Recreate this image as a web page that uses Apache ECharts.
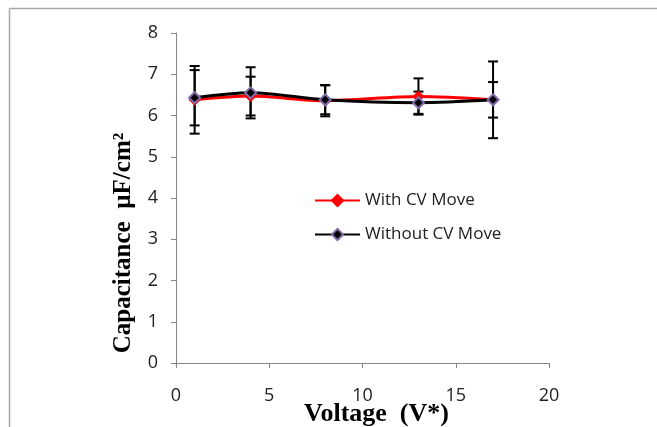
<!DOCTYPE html>
<html>
<head>
<meta charset="utf-8">
<script src="https://cdn.jsdelivr.net/npm/echarts@6/dist/echarts.min.js"></script>
<style>
  html, body { margin: 0; padding: 0; background: #fff; }
  #chart { width: 657px; height: 427px; }
</style>
</head>
<body>
<div id="chart"></div>
<script>
// values
const voltage = [1, 4, 8, 13, 17]
const withCvMove = [6.38, 6.47, 6.36, 6.46, 6.38]
const withoutCvMove = [6.43, 6.55, 6.38, 6.31, 6.38]
const withCvErr = [0.82, 0.47, 0.38, 0.44, 0.43]
const withoutCvErr = [0.67, 0.62, 0.35, 0.27, 0.93]
const seriesNames = ['With CV Move', 'Without CV Move']

const sans = '"Open Sans", "Liberation Sans", sans-serif'
const serif = '"Liberation Serif", "Times New Roman", serif'

/**
 * build [x, y, err] triples for the error bar series
 */
function errData(ys, errs) {
  return voltage.map((x, i) => [x, ys[i], errs[i]])
}

/**
 * vertical error bar with caps
 */
function renderErrorBar(params, api) {
  const x = api.value(0)
  const y = api.value(1)
  const e = api.value(2)
  const top = api.coord([x, y + e])
  const bottom = api.coord([x, y - e])
  const half = 5
  const style = { stroke: '#000', lineWidth: 2 }
  return {
    type: 'group',
    children: [
      { type: 'line', shape: { x1: top[0], y1: top[1], x2: bottom[0], y2: bottom[1] }, style },
      { type: 'line', shape: { x1: top[0] - half, y1: top[1], x2: top[0] + half, y2: top[1] }, style },
      { type: 'line', shape: { x1: bottom[0] - half, y1: bottom[1], x2: bottom[0] + half, y2: bottom[1] }, style }
    ]
  }
}

const chart = echarts.init(document.getElementById('chart'))

chart.setOption({
  backgroundColor: '#fff',
  animation: false,
  graphic: [
    { type: 'line', shape: { x1: 9.5, y1: 8.5, x2: 657, y2: 8.5 }, style: { stroke: '#a6a6a6', lineWidth: 1.5 } },
    { type: 'line', shape: { x1: 9.5, y1: 8.5, x2: 9.5, y2: 427 }, style: { stroke: '#a6a6a6', lineWidth: 1.5 } }
  ],
  grid: { left: 176, right: 108, top: 33, bottom: 64, containLabel: false, outerBoundsMode: 'none' },
  legend: {
    data: seriesNames,
    orient: 'vertical',
    left: 309,
    top: 187,
    itemWidth: 45,
    itemHeight: 14,
    itemGap: 17,
    textStyle: { fontFamily: sans, fontSize: 17, color: '#222' }
  },
  xAxis: {
    type: 'value',
    min: 0,
    max: 20,
    interval: 5,
    name: 'Voltage  (V*)',
    nameLocation: 'middle',
    nameGap: 38,
    nameMoveOverlap: false,
    nameTextStyle: { fontFamily: serif, fontWeight: 'bold', fontSize: 26, color: '#000', padding: [0, 0, 0, 28] },
    splitLine: { show: false },
    axisLine: { lineStyle: { color: '#868686', width: 1 } },
    axisTick: { show: true, length: 5, lineStyle: { color: '#868686' } },
    axisLabel: { fontFamily: sans, fontSize: 18, color: '#222', margin: 24 }
  },
  yAxis: {
    type: 'value',
    min: 0,
    max: 8,
    interval: 1,
    name: 'Capacitance  µF/cm²',
    nameLocation: 'middle',
    nameGap: 40,
    nameMoveOverlap: false,
    nameTextStyle: { fontFamily: serif, fontWeight: 'bold', fontSize: 25, color: '#000', padding: [0, 90, 0, 0] },
    splitLine: { show: false },
    axisLine: { show: true, lineStyle: { color: '#868686', width: 1 } },
    axisTick: { show: true, length: 5, lineStyle: { color: '#868686' } },
    axisLabel: { fontFamily: sans, fontSize: 18, color: '#222', margin: 18 }
  },
  series: [
    {
      type: 'custom',
      name: 'errWith',
      renderItem: renderErrorBar,
      data: errData(withCvMove, withCvErr),
      z: 1,
      silent: true
    },
    {
      type: 'custom',
      name: 'errWithout',
      renderItem: renderErrorBar,
      data: errData(withoutCvMove, withoutCvErr),
      z: 1,
      silent: true
    },
    {
      type: 'line',
      name: seriesNames[0],
      data: voltage.map((x, i) => [x, withCvMove[i]]),
      smooth: 0.3,
      symbol: 'diamond',
      symbolSize: 11,
      lineStyle: { color: '#ff0000', width: 3 },
      itemStyle: { color: '#ff0000', borderColor: '#ff0000', borderWidth: 1 },
      z: 2
    },
    {
      type: 'line',
      name: seriesNames[1],
      data: voltage.map((x, i) => [x, withoutCvMove[i]]),
      smooth: 0.3,
      symbol: 'diamond',
      symbolSize: 11,
      lineStyle: { color: '#000', width: 3 },
      itemStyle: { color: '#000', borderColor: '#7e6aa8', borderWidth: 2 },
      z: 3
    }
  ]
})
</script>
</body>
</html>
